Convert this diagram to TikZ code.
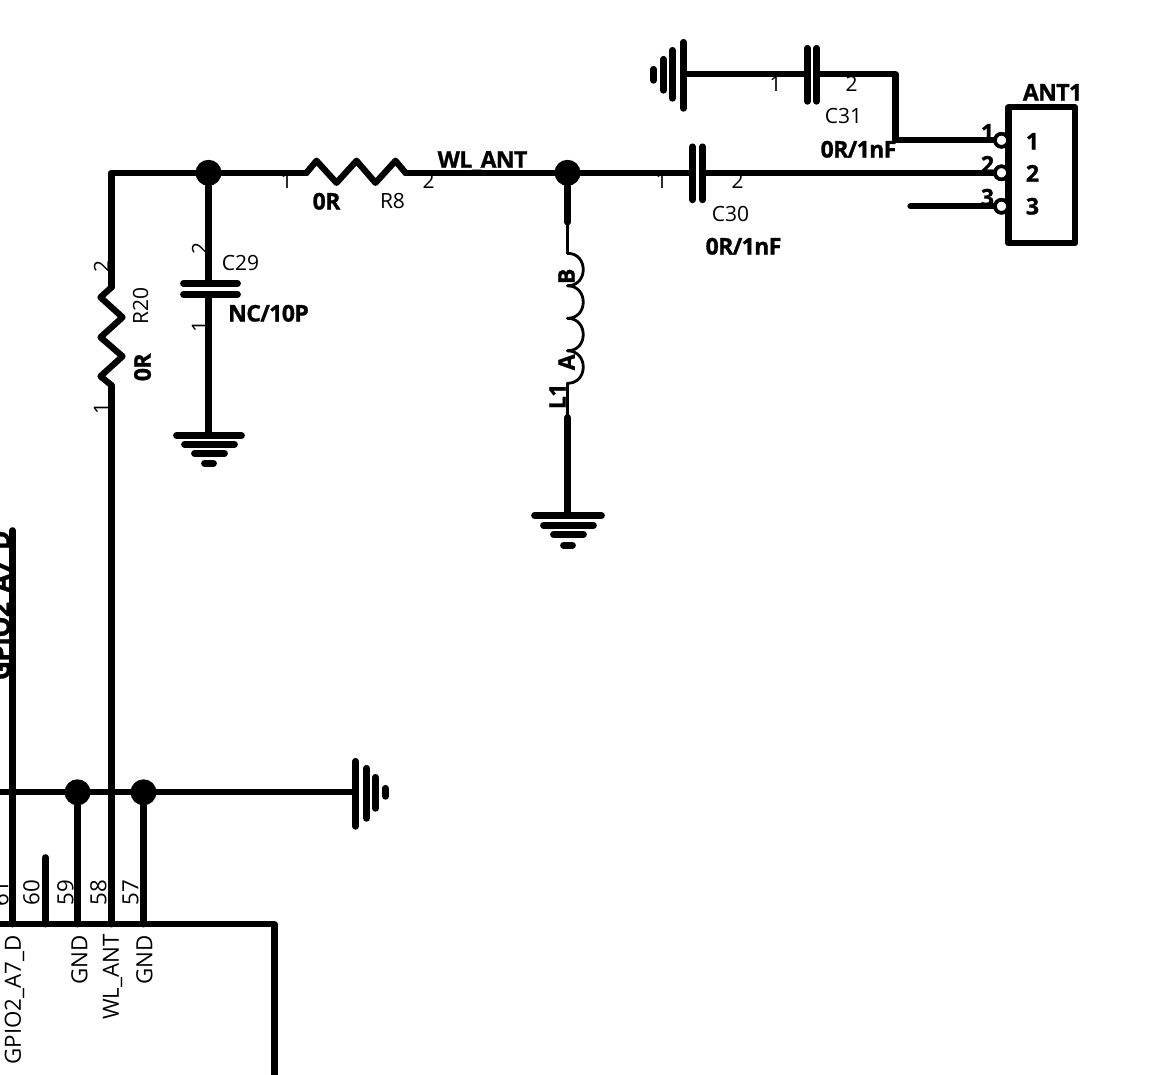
\documentclass[tikz,border=0pt]{standalone}
\usepackage{fontspec}
\setmainfont{Open Sans}
\newfontfamily\hb[BoldFeatures={FakeBold=1.1,LetterSpace=-2.5}]{Open Sans}
\usetikzlibrary{calc}
\tikzset{
  x=1pt,y=-1pt,
  wire/.style={line width=6.3pt,line cap=round,line join=round,black},
  thinwire/.style={line width=2.8pt,line cap=round,black},
  plate/.style={line width=6.8pt,line cap=round},
  dot/.style={circle,fill=black,draw=none,minimum size=26pt,inner sep=0pt},
  pincirc/.style={circle,fill=white,draw=black,line width=3.6pt,minimum size=13pt,inner sep=0pt},
  txt/.style={inner sep=0pt,font=\fontsize{21}{24}\selectfont},
  vtxt/.style={inner sep=0pt,font=\fontsize{22.3}{24}\selectfont},
  btxt/.style={inner sep=0pt,font=\fontsize{23}{24}\selectfont\hb\bfseries},
}
\begin{document}
\begin{tikzpicture}
\useasboundingbox (0,0) rectangle (1174,1074);
\begin{scope}[shift={(0.5,0.3)}]
% named points
\coordinate (corner) at (111,172.5);
\node[dot] (j1) at (208,172.5) {};
\node[dot] (j2) at (567,172.5) {};
\node[dot] (j3) at (77,792) {};
\node[dot] (j4) at (143,792) {};
\node[pincirc] (p1) at (1001,140) {};
\node[pincirc] (p2) at (1001,172.5) {};
\node[pincirc] (p3) at (1001,206) {};
\coordinate (r8a) at (306,172.5);
\coordinate (r8b) at (405,172.5);
\coordinate (r20a) at (111,287);
\coordinate (r20b) at (111,385);
\coordinate (c29a) at (208,283);
\coordinate (c29b) at (208,294);
\coordinate (g29) at (208,435);
\coordinate (c30a) at (692,172.5);
\coordinate (c30b) at (702,172.5);
\coordinate (c31a) at (807,74);
\coordinate (c31b) at (816,74);
\coordinate (g31) at (683,74);
\coordinate (bend1) at (895,74);
\coordinate (bend2) at (895,140);
\coordinate (w3) at (910,206);
\coordinate (la) at (567,222);
\coordinate (lb) at (567,253);
\coordinate (l2) at (567,285.5);
\coordinate (l3) at (567,318);
\coordinate (l4) at (567,350.5);
\coordinate (lc) at (567,383);
\coordinate (ld) at (567,417);
\coordinate (gl) at (567,515);
\coordinate (busl) at (-2,792);
\coordinate (g4) at (355,792);
\coordinate (u0) at (12,530);
\coordinate (u1) at (12,924);
\coordinate (u2a) at (45,857);
\coordinate (u2) at (45,924);
\coordinate (u3) at (77,924);
\coordinate (u4) at (111,924);
\coordinate (u5) at (143,924);
% wires
\draw[wire] (r20a) -- (corner) -- (j1) -- (r8a);
\draw[wire] (r8a) -- ++(10,-12) -- ++(20,22) -- ++(20,-22) -- ++(19,22) -- ++(20,-22) -- (r8b);
\draw[wire] (r8b) -- (j2) -- (c30a);
\draw[wire] (c30b) -- (p2);
\draw[wire] (r20a) -- ++(-11,10) -- ++(22,20) -- ++(-22,20) -- ++(22,19) -- ++(-22,20) -- (r20b);
\draw[wire] (r20b) -- (u4);
\draw[wire] (j1) -- (c29a);
\draw[wire] (c29b) -- (g29);
\draw[wire] (g31) -- (c31a);
\draw[wire] (c31b) -- (bend1) -- (bend2) -- (p1);
\draw[wire] (w3) -- (p3);
\draw[wire] (j2) -- (la);
\draw[thinwire] (la) -- (lb);
\draw[thinwire] (lb) .. controls ++(21,0) and ($(l2)+(21,0)$) .. (l2);
\draw[thinwire] (l2) .. controls ++(21,0) and ($(l3)+(21,0)$) .. (l3);
\draw[thinwire] (l3) .. controls ++(21,0) and ($(l4)+(21,0)$) .. (l4);
\draw[thinwire] (l4) .. controls ++(21,0) and ($(lc)+(21,0)$) .. (lc);
\draw[thinwire] (lc) -- (ld);
\draw[wire] (ld) -- (gl);
\draw[wire] (busl) -- (j3) -- (j4) -- (g4);
\draw[wire] (u0) -- (u1);
\draw[wire] (u2a) -- (u2);
\draw[wire] (j3) -- (u3);
\draw[wire] (j4) -- (u5);
% plates
\draw[plate] (c30a) ++(0,-26) -- ++(0,53);
\draw[plate] (c30b) ++(0,-26) -- ++(0,53);
\draw[plate] (c31a) ++(0,-26) -- ++(0,53);
\draw[plate] (c31b) ++(0,-26) -- ++(0,53);
\draw[plate] (c29a) ++(-25,0) -- ++(54,0);
\draw[plate] (c29b) ++(-25,0) -- ++(54,0);
% grounds
\draw[plate] (g29) ++(-32,0) -- ++(65,0);
\draw[plate] (g29) ++(-24,9) -- ++(50,0);
\draw[plate] (g29) ++(-14,18) -- ++(30,0);
\draw[plate] (g29) ++(-4,28) -- ++(9,0);
\draw[plate] (gl) ++(-33,0) -- ++(67,0);
\draw[plate] (gl) ++(-24,10) -- ++(50,0);
\draw[plate] (gl) ++(-14,19) -- ++(30,0);
\draw[plate] (gl) ++(-4,30) -- ++(9,0);
\draw[plate] (g31) ++(0,-32) -- ++(0,66);
\draw[plate] (g31) ++(-11,-24) -- ++(0,48);
\draw[plate] (g31) ++(-20,-15) -- ++(0,31);
\draw[plate] (g31) ++(-30,-5) -- ++(0,11);
\draw[plate] (g4) ++(0,-31) -- ++(0,65);
\draw[plate] (g4) ++(11,-24) -- ++(0,50);
\draw[plate] (g4) ++(20,-15) -- ++(0,31);
\draw[plate] (g4) ++(30,-4) -- ++(0,8);
% boxes
\draw[wire] (-2,924) -- (274,924) -- (274,1080);
\draw[wire] (1008,107) rectangle (1074.5,243);
\node[pincirc] at (p1) {};
\node[pincirc] at (p2) {};
\node[pincirc] at (p3) {};
% labels
\node[btxt] (tWL) at (482,161) {WL\_ANT};
\node[txt] (t1) at (286,181) {1};
\node[txt] (t2) at (428,181) {2};
\node[btxt] (t3) at (326,201) {0R};
\node[txt] (t4) at (392,201) {R8};
\node[txt] (t5) at (661,181) {1};
\node[txt] (t6) at (737,181) {2};
\node[txt] (t7) at (730,214) {C30};
\node[btxt] (t8) at (743,246) {0R/1nF};
\node[txt] (t9) at (775,84) {1};
\node[txt] (t10) at (851,84) {2};
\node[txt] (t11) at (843,116) {C31};
\node[btxt] (t12) at (858,149) {0R/1nF};
\node[btxt] (t13) at (1052,92) {ANT1};
\node[btxt] (t14) at (1032,141) {1};
\node[btxt] (t15) at (1032,173) {2};
\node[btxt] (t16) at (1032,206) {3};
\node[btxt] (t17) at (987,132) {1};
\node[btxt] (t18) at (987,164) {2};
\node[btxt] (t19) at (987,197) {3};
\node[txt] (t20) at (240,263) {C29};
\node[btxt] (t21) at (268,313) {NC/10P};
\node[txt,rotate=90] (t22) at (199,248) {2};
\node[txt,rotate=90] (t23) at (199,326) {1};
\node[txt,rotate=90] (t24) at (101,266) {2};
\node[txt,rotate=90] (t25) at (101,408) {1};
\node[txt,rotate=90] (t26) at (140,306) {R20};
\node[btxt,rotate=90] (t27) at (142,367) {0R};
\node[btxt,rotate=90] (t28) at (566,276) {B};
\node[btxt,rotate=90] (t29) at (566,362) {A};
\node[btxt,rotate=90] (t30) at (557,396) {L1};
\node[btxt,rotate=90,anchor=east,font=\fontsize{26.5}{28}\selectfont\hb\bfseries] (t31) at (2,530) {GPIO2\_A7\_D};
\node[vtxt,rotate=90] (t32) at (0,893) {61};
\node[vtxt,rotate=90] (t33) at (31,892) {60};
\node[vtxt,rotate=90] (t34) at (65,892) {59};
\node[vtxt,rotate=90] (t35) at (98,892) {58};
\node[vtxt,rotate=90] (t36) at (130,892) {57};
\node[vtxt,rotate=90,anchor=east] (t37) at (14,935) {GPIO2\_A7\_D};
\node[vtxt,rotate=90,anchor=east] (t38) at (79,935) {GND};
\node[vtxt,rotate=90,anchor=east] (t39) at (112,934) {WL\_ANT};
\node[vtxt,rotate=90,anchor=east] (t40) at (144,935) {GND};
\end{scope}
\end{tikzpicture}
\end{document}
